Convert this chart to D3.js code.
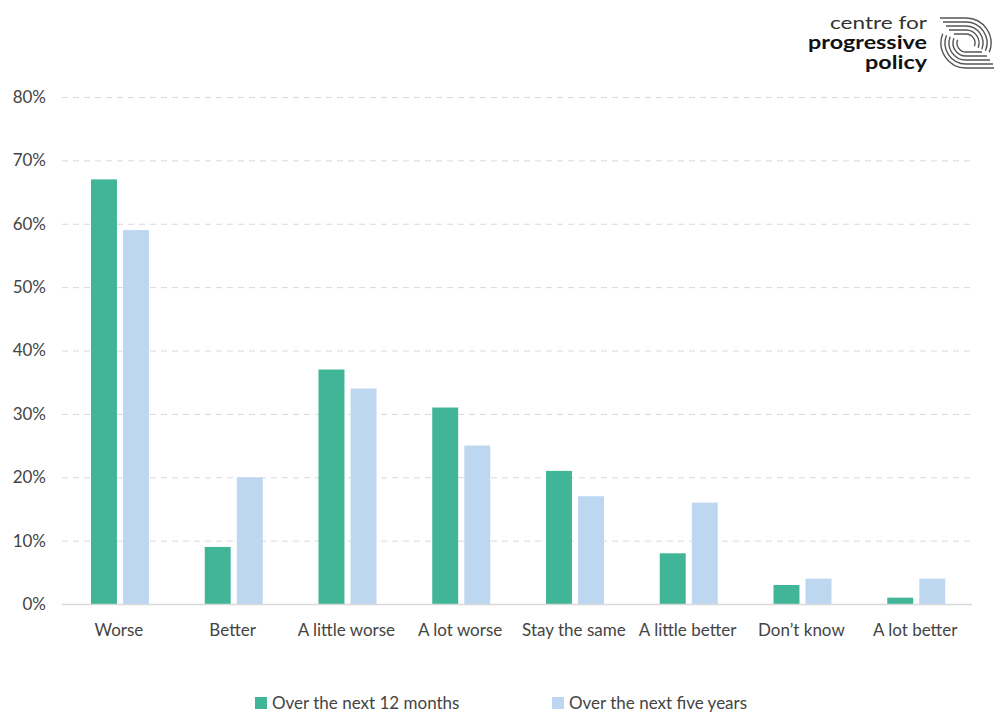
<!DOCTYPE html>
<html>
<head>
<meta charset="utf-8">
<script src="https://cdn.jsdelivr.net/npm/d3@7"></script>
<style>
  body { margin: 0; background: #fff; }
  text { font-family: Lato, "Open Sans", sans-serif; }
</style>
</head>
<body>
<script>
var w = 994;
var h = 713;

var categories = ["Worse", "Better", "A little worse", "A lot worse", "Stay the same", "A little better", "Don\u2019t know", "A lot better"];
var next12Months = [67, 9, 37, 31, 21, 8, 3, 1];
var nextFiveYears = [59, 20, 34, 25, 17, 16, 4, 4];
var seriesNames = ["Over the next 12 months", "Over the next five years"];
var seriesColors = ["#41b597", "#bdd7f0"];
var yTicks = [0, 10, 20, 30, 40, 50, 60, 70, 80];

var margin = {left: 62, right: 22, top: 97, bottom: 109};

var svg = d3.select("body").append("svg")
    .attr("width", w)
    .attr("height", h);

var x = d3.scaleBand()
    .domain(categories)
    .range([margin.left, w - margin.right]);

var inner = d3.scaleBand()
    .domain([0, 1])
    .range([29, 87])
    .paddingInner(0.19);

var y = d3.scaleLinear()
    .domain([0, 80])
    .range([h - margin.bottom, margin.top]);

// gridlines
svg.append("g").selectAll("line")
    .data(yTicks.filter(function(d) { return d > 0; }))
    .enter().append("line")
    .attr("x1", margin.left)
    .attr("x2", w - margin.right)
    .attr("y1", function(d) { return y(d) + 0.5; })
    .attr("y2", function(d) { return y(d) + 0.5; })
    .attr("stroke", "#d9d9d9")
    .attr("stroke-dasharray", "6,5");

// y axis labels
svg.append("g").selectAll("text")
    .data(yTicks)
    .enter().append("text")
    .attr("x", 46)
    .attr("y", function(d) { return y(d); })
    .attr("dy", "0.35em")
    .attr("text-anchor", "end")
    .attr("font-size", 17)
    .attr("fill", "#444")
    .text(function(d) { return d + "%"; });

// bars
var series = [next12Months, nextFiveYears];
series.forEach(function(vals, s) {
  svg.append("g").selectAll("rect")
      .data(vals)
      .enter().append("rect")
      .attr("x", function(d, i) { return x(categories[i]) + inner(s); })
      .attr("width", inner.bandwidth())
      .attr("y", function(d) { return y(d); })
      .attr("height", function(d) { return y(0) - y(d); })
      .attr("fill", seriesColors[s]);
});

// baseline
svg.append("line")
    .attr("x1", margin.left)
    .attr("x2", w - margin.right)
    .attr("y1", y(0) + 0.5)
    .attr("y2", y(0) + 0.5)
    .attr("stroke", "#d9d9d9")
    .attr("stroke-width", 1.5);

// x labels
svg.append("g").selectAll("text")
    .data(categories)
    .enter().append("text")
    .attr("x", function(d) { return x(d) + x.bandwidth() / 2; })
    .attr("y", 636)
    .attr("text-anchor", "middle")
    .attr("font-size", 17)
    .attr("fill", "#444")
    .text(function(d) { return d; });

// legend
var legendX = [255, 552];
seriesNames.forEach(function(name, s) {
  svg.append("rect")
      .attr("x", legendX[s])
      .attr("y", 697)
      .attr("width", 12)
      .attr("height", 12)
      .attr("fill", seriesColors[s]);
  svg.append("text")
      .attr("x", legendX[s] + 17)
      .attr("y", 709)
      .attr("font-size", 17)
      .attr("fill", "#444")
      .text(name);
});

// logo
var logo = svg.append("g");
logo.append("text").attr("x", 927).attr("y", 29).attr("text-anchor", "end")
    .attr("font-size", 18).attr("fill", "#333")
    .attr("textLength", 97).attr("lengthAdjust", "spacingAndGlyphs").text("centre for");
logo.append("text").attr("x", 927).attr("y", 49).attr("text-anchor", "end")
    .attr("font-size", 18).attr("font-weight", "bold").attr("fill", "#111")
    .attr("textLength", 119).attr("lengthAdjust", "spacingAndGlyphs").text("progressive");
logo.append("text").attr("x", 927).attr("y", 69).attr("text-anchor", "end")
    .attr("font-size", 18).attr("font-weight", "bold").attr("fill", "#111")
    .attr("textLength", 62).attr("lengthAdjust", "spacingAndGlyphs").text("policy");

// swirl mark
var cx = 966, cy = 43;
var radii = [9, 13, 17, 21, 25];
var tails = [12, 17, 20, 23, 26];
var endAng = Math.PI * 0.62;
radii.forEach(function(r, i) {
  // top strand: enters from the left, bends clockwise round the right side
  logo.append("path")
      .attr("d", "M" + (cx - tails[i]) + "," + (cy - r) + " L" + cx + "," + (cy - r) +
                 " A" + r + "," + r + " 0 0 1 " + (cx + r * Math.sin(endAng)) + "," + (cy - r * Math.cos(endAng)))
      .attr("fill", "none").attr("stroke", "#555").attr("stroke-width", 1.4);
  // bottom strand: enters from the right, bends clockwise round the left side
  logo.append("path")
      .attr("d", "M" + (cx + tails[i] + 4) + "," + (cy + r) + " L" + cx + "," + (cy + r) +
                 " A" + r + "," + r + " 0 0 1 " + (cx - r * Math.sin(endAng)) + "," + (cy + r * Math.cos(endAng)))
      .attr("fill", "none").attr("stroke", "#555").attr("stroke-width", 1.4);
});
</script>
</body>
</html>
